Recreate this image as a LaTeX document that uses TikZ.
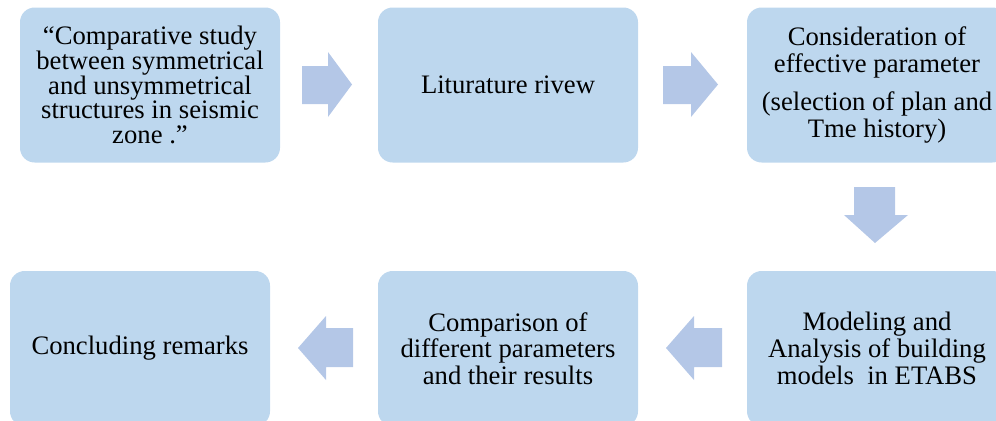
\documentclass[tikz,border=0pt]{standalone}
\usepackage{fontspec}
\setmainfont{Liberation Serif}
\definecolor{boxfill}{RGB}{189,215,238}
\definecolor{arrowfill}{RGB}{180,199,231}
\begin{document}
\begin{tikzpicture}[x=0.75pt,y=-0.75pt,
  stagebox/.style={fill=boxfill,draw=none,rounded corners=11pt,minimum width=195pt,minimum height=116.25pt,inner sep=0pt,align=center,font=\fontsize{20}{20}\selectfont},
  blockarrow/.style={fill=arrowfill,draw=none}]
\useasboundingbox (0,0) rectangle (996,421);
\node[stagebox,font=\fontsize{20}{18.5}\selectfont] (b1) at (150,85) {“Comparative study\\between symmetrical\\and unsymmetrical\\structures in seismic\\zone .”};
\node[stagebox] (b2) at (508,85) {Liturature rivew};
\node[stagebox] (b3) at (877,85) {Consideration of\\effective parameter\\[9pt](selection of plan and\\Tme history)};
\node[stagebox] (b4) at (140,348.5) {Concluding remarks};
\node[stagebox] (b5) at (508,348.5) {Comparison of\\different parameters\\and their results};
\node[stagebox] (b6) at (877,348.5) {Modeling and\\Analysis of building\\models\ \ in ETABS};
% block arrows
\fill[blockarrow] (302,66) -- (328,66) -- (328,52) -- (352,84.5) -- (328,117) -- (328,104) -- (302,104) -- cycle;
\fill[blockarrow] (663,66) -- (691,66) -- (691,52) -- (718,84.5) -- (691,117) -- (691,104) -- (663,104) -- cycle;
\fill[blockarrow] (854,187) -- (895,187) -- (895,215) -- (908,215) -- (875,243) -- (844,215) -- (854,215) -- cycle;
\fill[blockarrow] (353,328) -- (326,328) -- (326,316) -- (298,348) -- (326,380) -- (326,367) -- (353,367) -- cycle;
\fill[blockarrow] (722,328) -- (694,328) -- (694,316) -- (666,348) -- (694,380) -- (694,367) -- (722,367) -- cycle;
\end{tikzpicture}
\end{document}
